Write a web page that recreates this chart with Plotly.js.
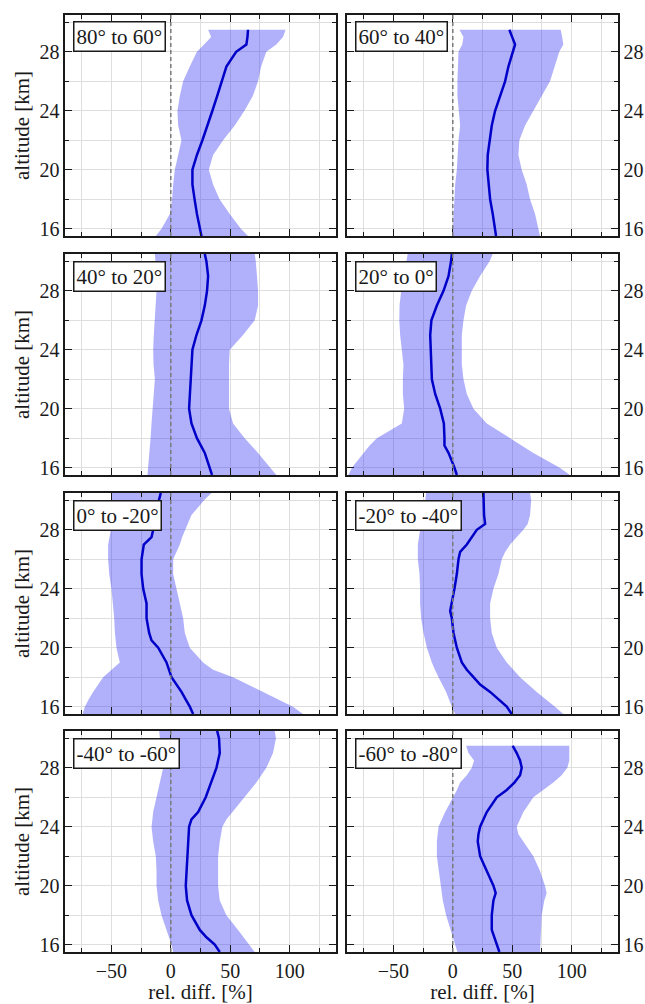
<!DOCTYPE html>
<html>
<head>
<meta charset="utf-8">
<script src="https://cdn.plot.ly/plotly-3.0.1.min.js"></script>
<style>html,body{margin:0;padding:0;background:#fff;}#chart{width:645px;height:1004px;}</style>
</head>
<body>
<div id="chart"></div>
<script>
// ---------- DATA ----------
const panelLabels = ["80° to 60°","60° to 40°","40° to 20°","20° to 0°","0° to -20°","-20° to -40°","-40° to -60°","-60° to -80°"];

const alt_p1  = [15.5,16,17,18,19,20,21,22,23,24,25,26,27,28,28.5,29,29.5];
const mean_p1 = [25.8,24.4,22,20,18.2,18.2,22,26.6,30.5,35,39,42.6,46.8,55,63.6,64.5,65];
const lo_p1   = [-12.6,-7.8,-0.8,1.1,2,3.4,6.2,9,6.2,5.6,7.6,10.4,16,22,28,34,31.4];
const hi_p1   = [65,59,49.6,41,35.6,32,35.6,44,53.8,62,69,73.4,76,80.4,88.8,94.4,96.6];

const alt_p2  = [15.5,16,17,18,19,20,21,22,23,24,25,26,27,28,28.5,29,29.5];
const mean_p2 = [36.4,35.6,33.6,31.4,30,29.1,29.4,30.8,32.8,35.6,39.8,44,46.8,50.4,52.4,50,47.6];
const lo_p2   = [0,0,0.6,1.4,2,3.4,3.9,4.8,6.2,4.8,3.9,3.9,4.2,4.8,8,9,5.6];
const hi_p2   = [73.4,72,69.2,65,62.2,58,55.2,56,60.8,67.8,74.8,81.8,86,89.6,93,92,90.8];

const alt_p3  = [15.5,16,17,18,19,20,21,22,23,24,25,26,27,28,29,30,30.5];
const mean_p3 = [34.7,32.8,28.6,22,17.4,15.4,16,16.8,17.4,18.2,21.6,25.8,28.6,30.5,31.4,30,28.6];
const lo_p3   = [-19.6,-19,-18.2,-17,-16.2,-15.4,-14.8,-13.4,-14.5,-14.8,-14.3,-13.4,-12.6,-12,-12,-13,-13.4];
const hi_p3   = [88.8,83.2,73.4,62.2,52.4,49,49.6,49,49,49.6,60.8,70.6,73.4,73.4,72.5,71.5,70.6];

const alt_p4  = [15.5,16,17,17.5,18,19,20,21,22,23,24,25,26,27,28,29,30,30.5];
const mean_p4 = [3.4,1.4,-3.6,-7,-7,-7.5,-10.6,-14.8,-17.6,-18.2,-18.5,-19,-18,-13.4,-7.8,-3.6,-1.5,-0.8];
const lo_p4   = [-87.7,-84.9,-75,-70,-63.9,-42.9,-40.9,-42,-42,-41.5,-42.9,-44.3,-45,-44.8,-43.4,-41.5,-39,-38];
const hi_p4   = [98.6,90,67.8,58,48.2,28.6,17.4,11.8,9,7.6,7.6,7.6,9,11.2,16,23,31,33.6];

const alt_p5  = [15.5,16,16.5,17,18,18.5,19,20,20.5,21,22,23,24,25,26,27,27.5,28,29,30,30.5];
const mean_p5 = [18.8,16,12.5,9,0.6,-1.5,-3.6,-10.6,-16.2,-18.2,-20.4,-20.4,-23.2,-24.6,-24.6,-22.7,-16.2,-14.8,-12.6,-10,-8.4];
const lo_p5   = [-74.2,-72.3,-69,-65.3,-56.9,-49.9,-42.9,-45.7,-46.5,-47,-47.6,-48.5,-49.9,-51.8,-52.7,-52.7,-51.5,-50.4,-50,-50,-49.9];
const hi_p5   = [111.2,102.8,91.6,77.6,52.4,35.6,27.2,16,14,11.8,10.4,7.6,4.8,2,2,7.6,9.5,11.8,17.4,28,34.2];

const alt_p6  = [15.5,16,17,17.5,18,18.5,19,20,21,22,22.5,23,24,25,26,26.5,27,28,28.4,29,30,30.5];
const mean_p6 = [49.6,45.4,31.4,23,17.4,11.8,7.6,3.4,0.6,-0.8,-2.2,-0.8,1.4,3.4,4.8,6.2,11.8,20.2,27.2,26.3,26,25.8];
const lo_p6   = [2,-0.8,-5.6,-9,-12,-15,-17.6,-21.8,-24.6,-26.6,-27,-27.5,-27.5,-28,-29.4,-29.4,-29.4,-27.5,-26,-24.6,-23,-22.4];
const hi_p6   = [93,86,70.6,63.5,56.6,51,45.4,37,32.8,31.4,31.4,31.4,34.2,38.4,41.2,44,48.2,59.4,63,65,66,65];

const alt_p7  = [15.5,16,16.5,17,18,19,20,21,22,23,24,24.5,25,26,27,28,29,30,30.5];
const mean_p7 = [41.2,37,30,24.4,17.4,13.7,12.6,13.2,14,14.6,15.4,17.4,23,29.4,34.2,38.4,41.2,40.6,39];
const lo_p7   = [2,0.6,-1.5,-3.6,-7.8,-10.6,-12,-12,-12.6,-14.8,-16.2,-15.5,-14.8,-12,-9.2,-6.4,-7.8,-9,-9.8];
const hi_p7   = [70.6,66.4,61.5,56.6,46.8,41.2,39.8,39.8,39.8,41.2,43.4,46.8,52.4,62.2,72,80.4,86,88.5,87.4];

const alt_p8  = [15.5,16,17,18,19,19.5,20,21,22,23,23.5,24,25,26,26.5,27,27.5,28,28.5,29,29.5];
const mean_p8 = [39.2,37,32.8,32.8,34.2,36.1,34.2,28.6,23,21,21.6,23,28.6,37,45.4,51.8,56.6,58,56.6,53.8,50.4];
const lo_p8   = [3.9,2,-2.2,-5.6,-8.4,-9.2,-10.1,-12,-13.4,-13.4,-13,-12,-6.4,0.6,3.5,6.2,11.8,16,17.9,13.2,11.2];
const hi_p8   = [73.4,73.4,74,74.8,77,79,77.6,73.4,67.8,59.4,55.2,53.8,59.4,67.8,76.2,84.6,91.6,96.4,98,98,98];

const xTickVals = [-50,0,50,100];
const yTickVals = [16,20,24,28];

// ---------- BUILD ----------
const panels = [
  [alt_p1,mean_p1,lo_p1,hi_p1],[alt_p2,mean_p2,lo_p2,hi_p2],
  [alt_p3,mean_p3,lo_p3,hi_p3],[alt_p4,mean_p4,lo_p4,hi_p4],
  [alt_p5,mean_p5,lo_p5,hi_p5],[alt_p6,mean_p6,lo_p6,hi_p6],
  [alt_p7,mean_p7,lo_p7,hi_p7],[alt_p8,mean_p8,lo_p8,hi_p8]
];

const W = 645, H = 1004;
const colX = [[65,336],[347,618]];
const rowY = [[15,236],[254,475],[493,714],[731,952]];
const FONT = "Times New Roman";
const INK = "#1a1a1a";
const GRID = "#dedede";

const traces = [];
const layout = {
  width: W, height: H,
  margin: {l:0,r:0,t:0,b:0},
  paper_bgcolor: "#fff", plot_bgcolor: "#fff",
  showlegend: false,
  font: {family: FONT, color: INK},
  shapes: [], annotations: []
};

panels.forEach((p, i) => {
  const [alt, mean, lo, hi] = p;
  const r = Math.floor(i/2), c = i % 2;
  const n = i + 1;
  const xa = n === 1 ? "x" : "x" + n;
  const ya = n === 1 ? "y" : "y" + n;
  const xk = n === 1 ? "xaxis" : "xaxis" + n;
  const yk = n === 1 ? "yaxis" : "yaxis" + n;

  traces.push({
    x: lo.concat(hi.slice().reverse()),
    y: alt.concat(alt.slice().reverse()),
    xaxis: xa, yaxis: ya,
    type: "scatter", mode: "lines",
    fill: "toself", fillcolor: "rgba(40,40,245,0.36)",
    line: {width: 0}, hoverinfo: "skip"
  });
  traces.push({
    x: mean, y: alt, xaxis: xa, yaxis: ya,
    type: "scatter", mode: "lines",
    line: {color: "#0000c8", width: 2.5}
  });

  const bottom = r === 3;
  layout[xk] = {
    domain: [colX[c][0]/W, colX[c][1]/W],
    anchor: ya, range: [-89, 139],
    showline: true, linecolor: INK, linewidth: 1.6, mirror: "ticks",
    ticks: "inside", ticklen: 7, tickwidth: 1.3, tickcolor: INK,
    tickmode: "array", tickvals: xTickVals,
    showgrid: true, gridcolor: GRID, gridwidth: 1, zeroline: false,
    minor: {dtick: 25, tick0: 0, ticks: "inside", ticklen: 4, tickwidth: 1, tickcolor: INK, showgrid: true, gridcolor: GRID, gridwidth: 1},
    showticklabels: bottom,
    tickfont: {family: FONT, size: 20, color: INK},
    title: bottom ? {text: "rel. diff. [%]", font: {family: FONT, size: 21, color: INK}, standoff: 2} : {text: ""},
    fixedrange: true
  };
  layout[yk] = {
    domain: [1 - rowY[r][1]/H, 1 - rowY[r][0]/H],
    anchor: xa, range: [15.5, 30.5], side: c === 0 ? "left" : "right",
    showline: true, linecolor: INK, linewidth: 1.6, mirror: "ticks",
    ticks: "inside", ticklen: 7, tickwidth: 1.3, tickcolor: INK,
    tickmode: "array", tickvals: yTickVals,
    showgrid: true, gridcolor: GRID, gridwidth: 1, zeroline: false,
    minor: {dtick: 2, tick0: 16, ticks: "inside", ticklen: 4, tickwidth: 1, tickcolor: INK, showgrid: true, gridcolor: GRID, gridwidth: 1},
    showticklabels: true,
    tickfont: {family: FONT, size: 20, color: INK},
    title: c === 0 ? {text: "altitude [km]", font: {family: FONT, size: 21, color: INK}, standoff: 4} : {text: ""},
    fixedrange: true
  };

  layout.shapes.push({
    type: "line", xref: xa, yref: ya + " domain",
    x0: 0, x1: 0, y0: 0, y1: 1,
    line: {color: "#7a7a7a", width: 1.5, dash: "4px,3px"},
    layer: "above"
  });

  layout.annotations.push({
    xref: xa + " domain", yref: ya + " domain",
    x: 8/271, y: 1 - 6.5/221, xanchor: "left", yanchor: "top",
    text: panelLabels[i], showarrow: false,
    font: {family: FONT, size: 21, color: INK},
    bgcolor: "#fff", bordercolor: INK, borderwidth: 1.5, borderpad: 2
  });
});

Plotly.newPlot("chart", traces, layout, {staticPlot: true, displayModeBar: false});
</script>
</body>
</html>
